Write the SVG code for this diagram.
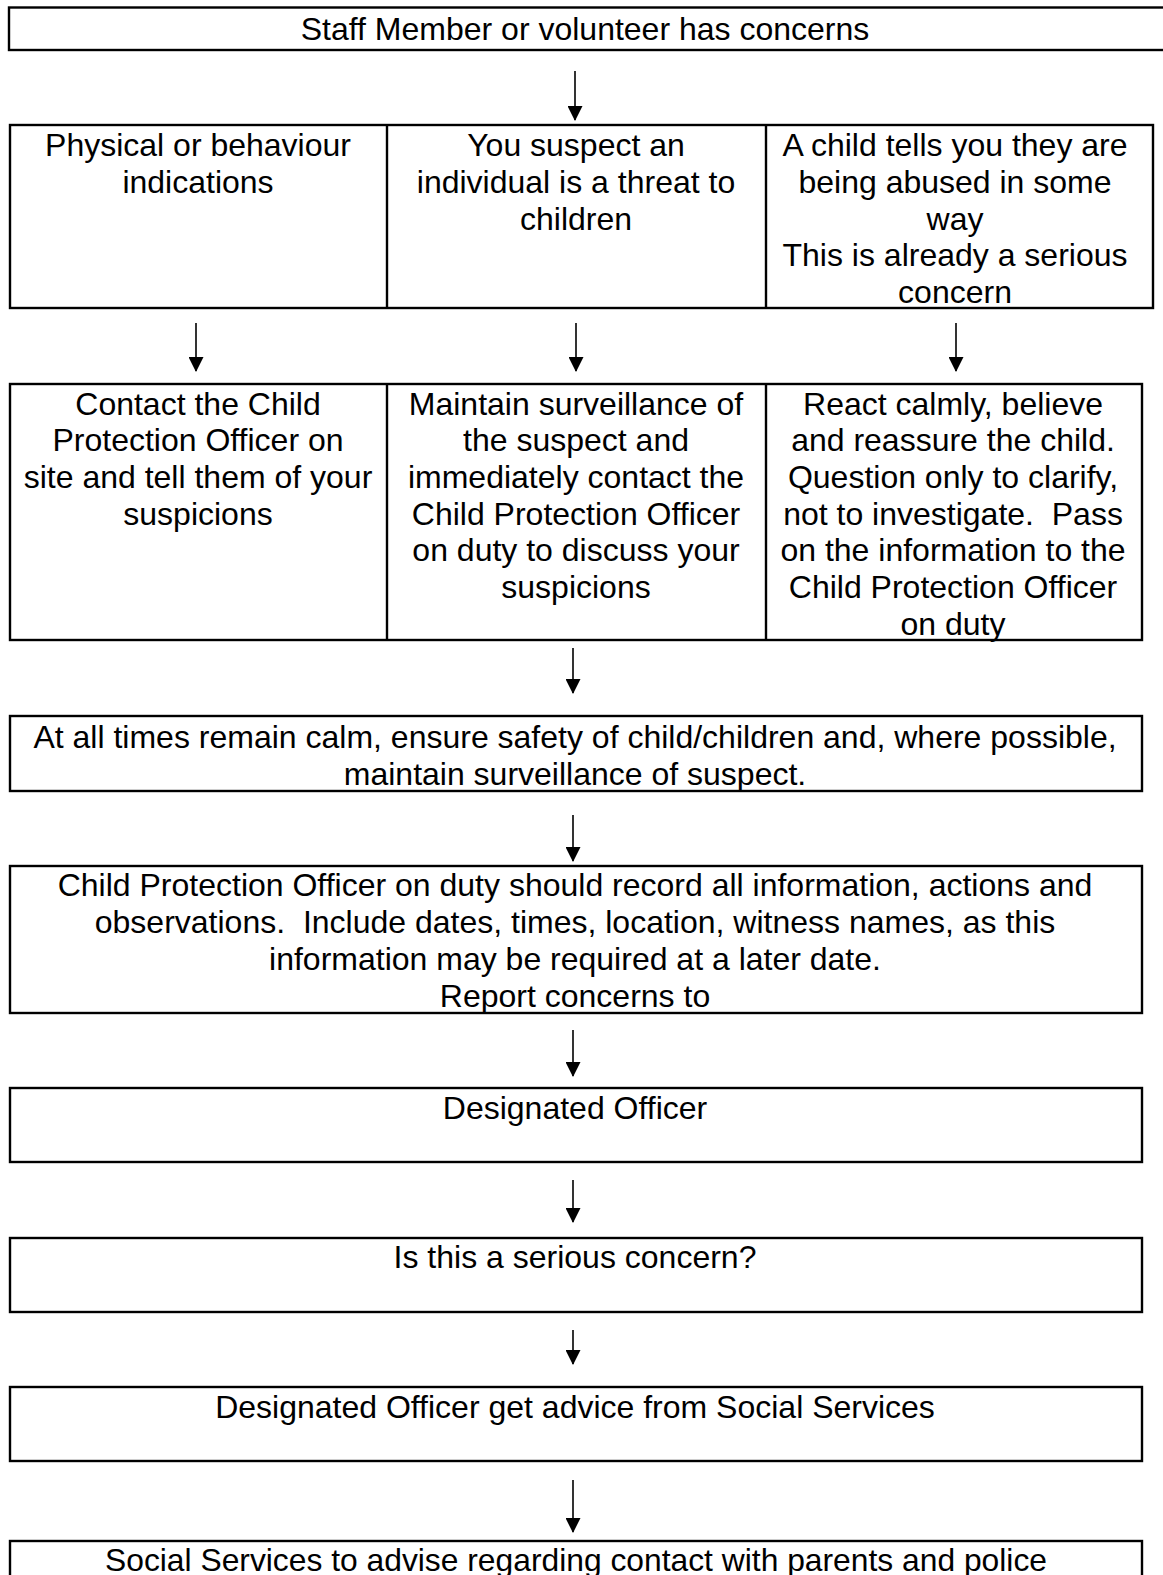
<svg xmlns="http://www.w3.org/2000/svg" width="1163" height="1575" viewBox="0 0 1163 1575">
<style>
rect.b{fill:none;stroke:#000;stroke-width:2.4}
line.d{stroke:#000;stroke-width:2.4}
text{font-family:"Liberation Sans",Arial,sans-serif;font-size:32px;fill:#000;text-anchor:middle;white-space:pre}
.c line{stroke:#000;stroke-width:1.6}
</style>
<defs>
<marker id="ah" markerUnits="userSpaceOnUse" markerWidth="16" markerHeight="15" refX="15" refY="8" orient="auto" viewBox="0 0 16 16">
<path d="M0,0 L16,8 L0,16 Z" fill="#000"/>
</marker>
</defs>
<rect width="1163" height="1575" fill="#fff"/>
<g id="n_start">
<rect class="b" x="9" y="7.5" width="1170" height="42.5"/>
<text x="585" y="39.5">Staff Member or volunteer has concerns</text>
</g>
<g id="row1">
<rect class="b" x="10" y="125" width="1143" height="183"/>
<line class="d" x1="387" y1="125" x2="387" y2="308"/>
<line class="d" x1="766" y1="125" x2="766" y2="308"/>
</g>
<g id="n_physical">
<text x="198" y="156">Physical or behaviour</text>
<text x="198" y="192.5">indications</text>
</g>
<g id="n_suspect">
<text x="576" y="156">You suspect an</text>
<text x="576" y="192.5">individual is a threat to</text>
<text x="576" y="229.5">children</text>
</g>
<g id="n_tells">
<text x="955" y="156">A child tells you they are</text>
<text x="955" y="192.5">being abused in some</text>
<text x="955" y="229.5">way</text>
<text x="955" y="266">This is already a serious</text>
<text x="955" y="302.5">concern</text>
</g>
<g id="row2">
<rect class="b" x="10" y="384" width="1132" height="256"/>
<line class="d" x1="387" y1="384" x2="387" y2="640"/>
<line class="d" x1="766" y1="384" x2="766" y2="640"/>
</g>
<g id="n_contact">
<text x="198" y="414.5">Contact the Child</text>
<text x="198" y="451.2">Protection Officer on</text>
<text x="198" y="487.9">site and tell them of your</text>
<text x="198" y="524.5">suspicions</text>
</g>
<g id="n_maintain">
<text x="576" y="414.5">Maintain surveillance of</text>
<text x="576" y="451.2">the suspect and</text>
<text x="576" y="487.9">immediately contact the</text>
<text x="576" y="524.5">Child Protection Officer</text>
<text x="576" y="561.3">on duty to discuss your</text>
<text x="576" y="598">suspicions</text>
</g>
<g id="n_react">
<text x="953" y="414.5">React calmly, believe</text>
<text x="953" y="451.2">and reassure the child.</text>
<text x="953" y="487.9">Question only to clarify,</text>
<text x="953" y="524.5">not to investigate.  Pass</text>
<text x="953" y="561.3">on the information to the</text>
<text x="953" y="598">Child Protection Officer</text>
<text x="953" y="634.5">on duty</text>
</g>
<g id="n_calm">
<rect class="b" x="10" y="716" width="1132" height="75"/>
<text x="575" y="747.5">At all times remain calm, ensure safety of child/children and, where possible,</text>
<text x="575" y="784.5">maintain surveillance of suspect.</text>
</g>
<g id="n_record">
<rect class="b" x="10" y="866" width="1132" height="147"/>
<text x="575" y="895.5">Child Protection Officer on duty should record all information, actions and</text>
<text x="575" y="932.5">observations.  Include dates, times, location, witness names, as this</text>
<text x="575" y="969.5">information may be required at a later date.</text>
<text x="575" y="1006.5">Report concerns to</text>
</g>
<g id="n_designated">
<rect class="b" x="10" y="1088" width="1132" height="74"/>
<text x="575" y="1118.5">Designated Officer</text>
</g>
<g id="n_serious">
<rect class="b" x="10" y="1238" width="1132" height="74"/>
<text x="575" y="1267.5">Is this a serious concern?</text>
</g>
<g id="n_advice">
<rect class="b" x="10" y="1387" width="1132" height="74"/>
<text x="575" y="1417.5">Designated Officer get advice from Social Services</text>
</g>
<g id="n_social">
<rect class="b" x="10" y="1541" width="1132" height="60"/>
<text x="576" y="1571" textLength="942" lengthAdjust="spacingAndGlyphs">Social Services to advise regarding contact with parents and police</text>
</g>
<g id="connectors" class="c">
<line x1="575" y1="71" x2="575" y2="120" marker-end="url(#ah)"/>
<line x1="196" y1="323" x2="196" y2="371" marker-end="url(#ah)"/>
<line x1="576" y1="323" x2="576" y2="371" marker-end="url(#ah)"/>
<line x1="956" y1="323" x2="956" y2="371" marker-end="url(#ah)"/>
<line x1="573" y1="648" x2="573" y2="693" marker-end="url(#ah)"/>
<line x1="573" y1="815" x2="573" y2="861" marker-end="url(#ah)"/>
<line x1="573" y1="1030" x2="573" y2="1076" marker-end="url(#ah)"/>
<line x1="573" y1="1180" x2="573" y2="1222" marker-end="url(#ah)"/>
<line x1="573" y1="1330" x2="573" y2="1364" marker-end="url(#ah)"/>
<line x1="573" y1="1480" x2="573" y2="1532" marker-end="url(#ah)"/>
</g>
</svg>
